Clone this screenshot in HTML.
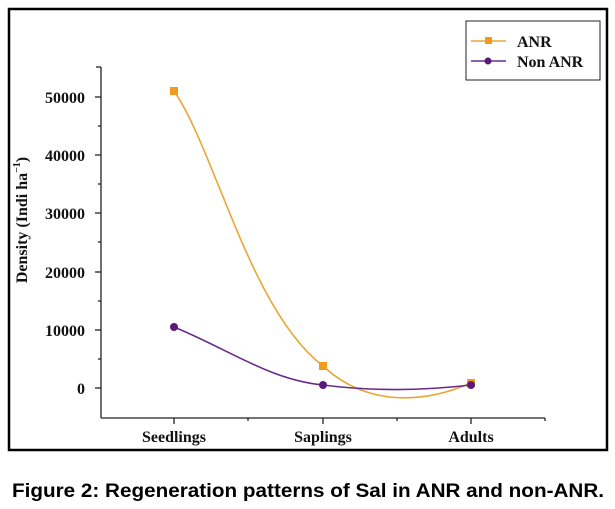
<!DOCTYPE html>
<html><head><style>
body{margin:0;background:#fff;}
svg{display:block;}
</style></head><body>
<svg width="615" height="509" viewBox="0 0 615 509" xmlns="http://www.w3.org/2000/svg">
<rect x="0" y="0" width="615" height="509" fill="#fff"/>
<rect x="9" y="9" width="598" height="441" fill="none" stroke="#000" stroke-width="2.5"/>
<g stroke="#222" stroke-width="1.3" fill="none">
<line x1="101" y1="67" x2="101" y2="418"/>
<line x1="101" y1="418" x2="545" y2="418"/>
<line x1="96" y1="67" x2="101" y2="67"/>
<line x1="95" y1="97" x2="101" y2="97"/>
<line x1="95" y1="155" x2="101" y2="155"/>
<line x1="95" y1="213" x2="101" y2="213"/>
<line x1="95" y1="272" x2="101" y2="272"/>
<line x1="95" y1="330" x2="101" y2="330"/>
<line x1="95" y1="388" x2="101" y2="388"/>
<line x1="98" y1="126" x2="101" y2="126"/>
<line x1="98" y1="184" x2="101" y2="184"/>
<line x1="98" y1="242" x2="101" y2="242"/>
<line x1="98" y1="301" x2="101" y2="301"/>
<line x1="98" y1="359" x2="101" y2="359"/>
<line x1="174" y1="418" x2="174" y2="424"/>
<line x1="323" y1="418" x2="323" y2="424"/>
<line x1="471" y1="418" x2="471" y2="424"/>
<line x1="248" y1="418" x2="248" y2="421"/>
<line x1="397" y1="418" x2="397" y2="421"/>
<line x1="545" y1="418" x2="545" y2="421"/>
</g>
<g font-family="Liberation Serif, serif" font-weight="bold" font-size="16" fill="#111" text-anchor="end">
<text x="85" y="103">50000</text>
<text x="85" y="161">40000</text>
<text x="85" y="219">30000</text>
<text x="85" y="278">20000</text>
<text x="85" y="336">10000</text>
<text x="85" y="394">0</text>
</g>
<g font-family="Liberation Serif, serif" font-weight="bold" font-size="16" fill="#111" text-anchor="middle">
<text x="174" y="442">Seedlings</text>
<text x="323" y="442">Saplings</text>
<text x="471" y="442">Adults</text>
</g>
<text transform="translate(27,220) rotate(-90)" font-family="Liberation Serif, serif" font-weight="bold" font-size="16" fill="#111" text-anchor="middle">Density (Indi ha<tspan font-size="10" dy="-7">−1</tspan><tspan dy="7">)</tspan></text>
<path d="M174,91 C215,150 250,310 323,366 C365,405 420,405 471,383" fill="none" stroke="#E8A735" stroke-width="1.6"/>
<path d="M174,327 C230,350 270,380 323,385 C370,391 420,391 471,385" fill="none" stroke="#6A2A8A" stroke-width="1.6"/>
<rect x="170" y="87" width="8" height="8" fill="#F39A1E"/>
<rect x="319" y="362" width="8" height="8" fill="#F39A1E"/>
<rect x="467" y="379" width="8" height="8" fill="#F39A1E"/>
<circle cx="174" cy="327" r="4" fill="#5A1A7A"/>
<circle cx="323" cy="385" r="4" fill="#5A1A7A"/>
<circle cx="471" cy="385" r="4" fill="#5A1A7A"/>
<rect x="466" y="21" width="134" height="59" fill="#fff" stroke="#222" stroke-width="1"/>
<line x1="471" y1="41" x2="506" y2="41" stroke="#E8A735" stroke-width="1.6"/>
<rect x="485" y="37" width="7" height="7" fill="#F39A1E"/>
<line x1="471" y1="61" x2="506" y2="61" stroke="#6A2A8A" stroke-width="1.6"/>
<circle cx="488" cy="61" r="3.5" fill="#5A1A7A"/>
<g font-family="Liberation Serif, serif" font-weight="bold" font-size="16" fill="#111">
<text x="517" y="47">ANR</text>
<text x="517" y="67">Non ANR</text>
</g>
<text x="12" y="497" textLength="592" lengthAdjust="spacingAndGlyphs" font-family="Liberation Sans, sans-serif" font-weight="bold" font-size="19" fill="#000">Figure 2: Regeneration patterns of Sal in ANR and non-ANR.</text>
</svg>
</body></html>
